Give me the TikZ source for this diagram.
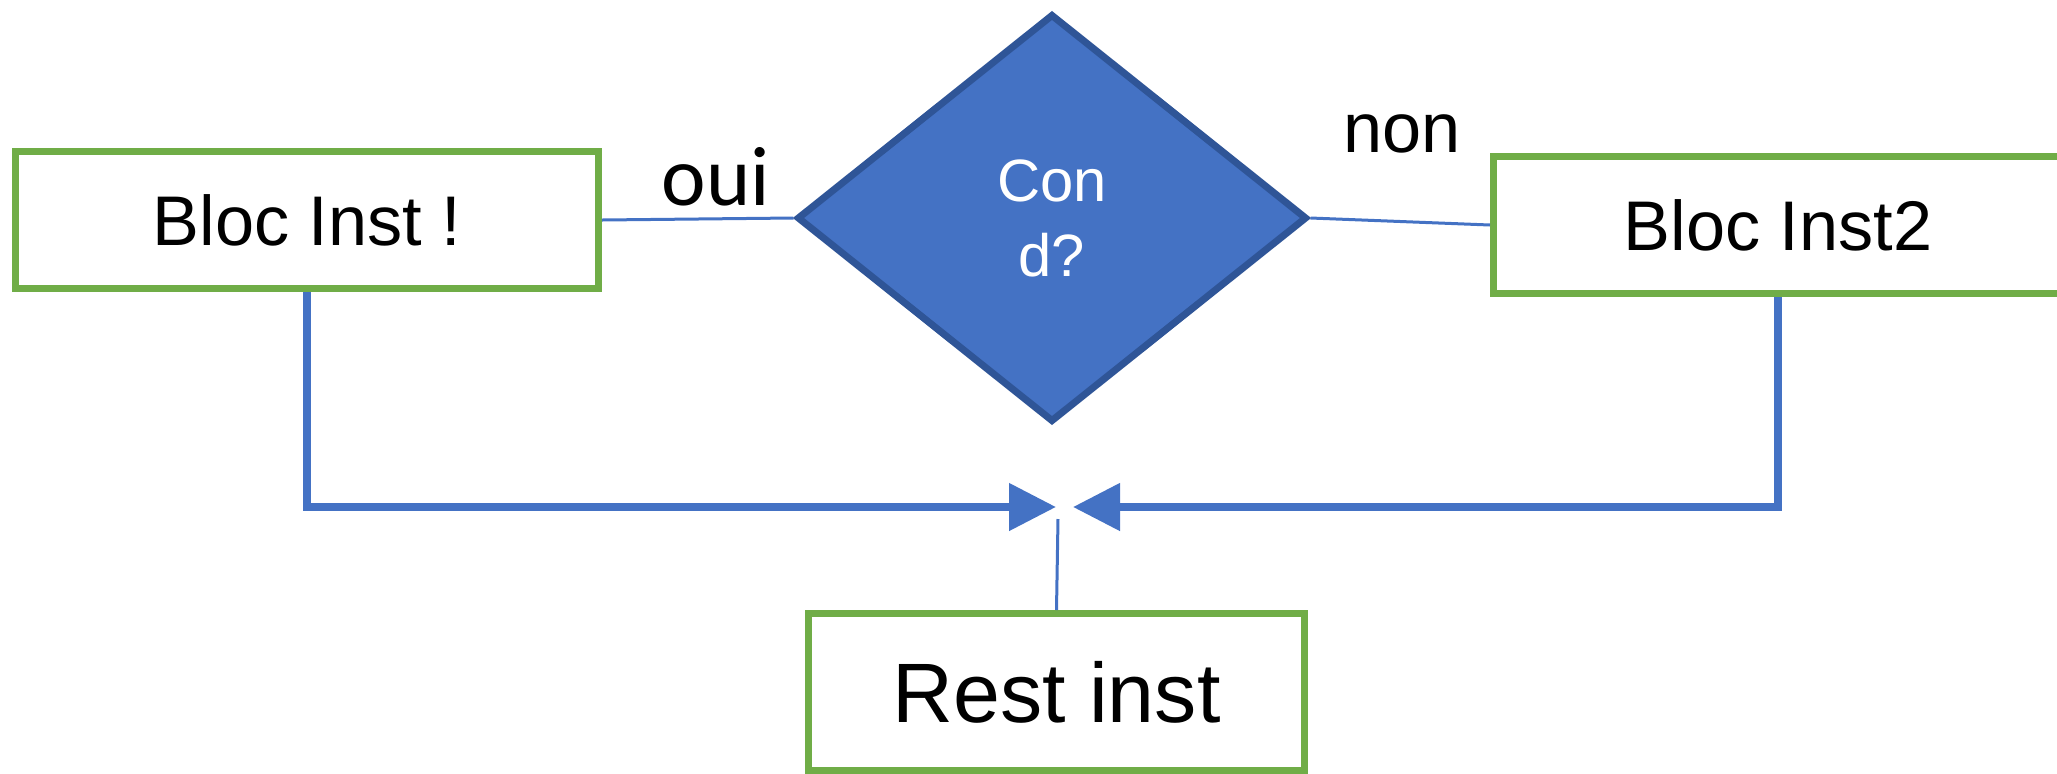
\documentclass[tikz,border=0pt]{standalone}
\usepackage{fontspec}
\setmainfont{Liberation Sans}
\newfontfamily\ouifont{Carlito}
\usetikzlibrary{arrows.meta,positioning,shapes.geometric}

\definecolor{boxgreen}{HTML}{70AD47}
\definecolor{flowblue}{HTML}{4472C4}
\definecolor{darkblue}{HTML}{2F5597}

\begin{document}
\begin{tikzpicture}[
    >={Triangle[length=0.47cm, width=0.46cm]},
    bloc/.style={draw=boxgreen, line width=0.07cm, fill=white, minimum width=5.83cm,
      minimum height=1.37cm, font=\fontsize{20}{24}\selectfont, inner sep=0pt},
    cond/.style={diamond, draw=darkblue, line width=0.07cm, fill=flowblue, text=white,
      minimum width=5.10cm, minimum height=4.08cm, inner sep=0pt, align=center,
      font=\fontsize{17}{21.3}\selectfont},
    answer/.style={font=\fontsize{20}{24}\selectfont, anchor=base, inner sep=0pt},
    link/.style={draw=flowblue, line width=0.03cm},
    arw/.style={->, draw=flowblue, line width=0.08cm},
  ]
    \useasboundingbox (0,0) rectangle (20.57,-7.73);

    % Blocks and condition
    \node[bloc] (inst1) at (3.07,-2.20) {Bloc Inst !};
    \node[cond] (test) at (10.52,-2.18) {Con\\d?};
    \node[bloc, minimum width=5.69cm] (inst2) at (17.78,-2.25) {Bloc Inst2};
    \node[bloc, minimum width=4.96cm, minimum height=1.57cm,
      font=\fontsize{24}{28}\selectfont] (rest) at (10.565,-6.92) {Rest inst};

    % Branch labels
    \node[answer, font=\ouifont\fontsize{24}{28}\selectfont] (oui) at (7.16,-2.05) {oui};
    \node[answer] (non) at (14.02,-1.52) {non};

    % Meeting points
    \coordinate (meetL) at (10.56,-5.07);
    \coordinate (meetR) at (10.73,-5.07);
    \coordinate (meet) at (10.58,-5.19);

    % Branches
    \draw[link] (inst1.east) -- (test.west);
    \draw[link] (test.east) -- (inst2.west);

    % Back to the rest
    \draw[arw] (inst1.south) |- (meetL);
    \draw[arw] (inst2.south) |- (meetR);
    \draw[link] (rest.north) -- (meet);

  \end{tikzpicture}
\end{document}
